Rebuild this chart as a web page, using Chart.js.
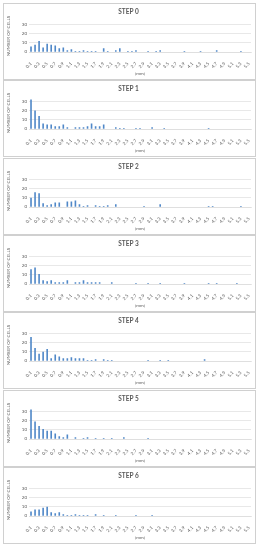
<!DOCTYPE html>
<html>
<head>
<meta charset="utf-8">
<script src="https://cdn.jsdelivr.net/npm/chart.js@4/dist/chart.umd.min.js"></script>
<style>
	html, body { margin: 0; padding: 0; background: #fff; }
	body { width: 258px; height: 550px; position: relative; overflow: hidden; }
	.panel { position: absolute; left: 3px; width: 251px; height: 75px; border: 1px solid #d0d0d0; background: #fff; }
	.panel canvas { display: block; }
</style>
</head>
<body>
<div id="charts"></div>
<script>
(function () {
	'use strict';

	var sizes = ['0.1', '0.2', '0.3', '0.4', '0.5', '0.6', '0.7', '0.8', '0.9', '1.0',
		'1.1', '1.2', '1.3', '1.4', '1.5', '1.6', '1.7', '1.8', '1.9', '2.0',
		'2.1', '2.2', '2.3', '2.4', '2.5', '2.6', '2.7', '2.8', '2.9', '3.0',
		'3.1', '3.2', '3.3', '3.4', '3.5', '3.6', '3.7', '3.8', '3.9', '4.0',
		'4.1', '4.2', '4.3', '4.4', '4.5', '4.6', '4.7', '4.8', '4.9', '5.0',
		'5.1', '5.2', '5.3', '5.4', '5.5'];

	var stepNames = ['STEP 0', 'STEP 1', 'STEP 2', 'STEP 3', 'STEP 4', 'STEP 5', 'STEP 6'];

	var step0 = [6, 8, 12, 5, 9, 8, 7, 4, 5, 2, 3, 1, 1, 2, 1, 1, 1, 0, 4, 1, 0, 2, 4, 0, 1, 1, 2, 0, 0, 1, 0, 1, 2, 0, 0, 0, 0, 0, 1, 0, 0, 0, 1, 0, 0, 0, 2, 0, 0, 0, 0, 0, 1, 0, 0];
	var step1 = [32, 20, 14, 6, 5, 5, 3, 3, 5, 2, 0, 2, 2, 2, 3, 6, 3, 3, 5, 0, 0, 2, 1, 1, 0, 0, 1, 1, 0, 0, 2, 0, 0, 1, 0, 0, 0, 0, 0, 0, 0, 0, 0, 0, 1, 0, 0, 0, 0, 0, 0, 0, 0, 0, 0];
	var step2 = [10, 16, 15, 4, 2, 3, 5, 5, 0, 6, 6, 7, 3, 1, 2, 0, 2, 1, 1, 2, 0, 3, 0, 0, 0, 0, 0, 0, 1, 0, 0, 0, 3, 0, 0, 0, 0, 0, 0, 0, 0, 0, 0, 0, 1, 1, 0, 0, 0, 0, 0, 0, 1, 0, 0];
	var step3 = [16, 18, 11, 4, 3, 4, 2, 2, 2, 4, 0, 2, 2, 4, 2, 2, 2, 2, 0, 0, 2, 0, 0, 0, 0, 0, 1, 0, 0, 1, 0, 0, 1, 0, 0, 0, 0, 0, 1, 0, 0, 0, 0, 0, 1, 0, 1, 0, 0, 0, 0, 1, 0, 0, 0];
	var step4 = [26, 14, 8, 10, 13, 3, 7, 5, 3, 3, 4, 3, 3, 3, 1, 1, 2, 0, 2, 1, 1, 0, 0, 0, 0, 0, 0, 0, 0, 1, 0, 0, 1, 0, 1, 0, 0, 0, 0, 0, 0, 0, 0, 2, 0, 0, 0, 0, 0, 0, 0, 0, 0, 0, 0];
	var step5 = [32, 19, 14, 11, 9, 9, 6, 3, 2, 5, 0, 2, 0, 1, 2, 0, 1, 0, 1, 0, 1, 0, 0, 2, 0, 0, 0, 0, 0, 1, 0, 0, 0, 0, 0, 0, 0, 0, 0, 0, 0, 0, 0, 0, 0, 0, 0, 0, 0, 0, 0, 0, 0, 0, 0];
	var step6 = [5, 7, 7, 9, 10, 4, 3, 4, 2, 1, 1, 2, 1, 1, 1, 0, 2, 0, 1, 0, 0, 1, 0, 0, 0, 0, 1, 0, 0, 0, 1, 0, 0, 0, 0, 0, 0, 0, 0, 0, 0, 0, 0, 0, 0, 0, 0, 0, 0, 0, 0, 0, 0, 0, 0];

	var steps = [step0, step1, step2, step3, step4, step5, step6];

	var yMax = 35;
	var yStep = 5;

	var textColor = '#595959';
	var font = 'Lato, "Liberation Sans", sans-serif';

	var holder = document.getElementById('charts');

	steps.forEach(function (values, i) {
		var panel = document.createElement('div');
		panel.className = 'panel';
		panel.style.top = (3 + Math.round(i * 77.3)) + 'px';
		var canvas = document.createElement('canvas');
		canvas.width = 251;
		canvas.height = 75;
		panel.appendChild(canvas);
		holder.appendChild(panel);

		new Chart(canvas, {
			type: 'bar',
			data: {
				labels: sizes,
				datasets: [
					{
						label: stepNames[i],
						data: values,
						backgroundColor: '#5088c8',
						borderWidth: 0,
						categoryPercentage: 0.5,
						barPercentage: 0.8,
					},
				],
			},
			options: {
				responsive: false,
				animation: false,
				devicePixelRatio: 1,
				layout: {
					padding: { left: 2, right: 4, top: 0, bottom: 0 },
				},
				plugins: {
					legend: { display: false },
					tooltip: { enabled: false },
					title: {
						display: true,
						text: stepNames[i],
						color: textColor,
						font: { family: font, size: 6.5, weight: 'bold' },
						padding: { top: 4, bottom: 4 },
					},
				},
				scales: {
					y: {
						min: 0,
						max: yMax,
						ticks: {
							stepSize: yStep,
							color: textColor,
							font: { family: font, size: 4.5 },
							padding: 2,
						},
						border: { display: false },
						grid: {
							color: '#d9d9d9',
							lineWidth: 0.6,
							drawTicks: false,
						},
						title: {
							display: true,
							text: 'NUMBER OF CELLS',
							color: textColor,
							font: { family: font, size: 4.5 },
							padding: { top: 0, bottom: 2 },
						},
						afterFit: function (scale) {
							scale.width = 23;
						},
					},
					x: {
						ticks: {
							autoSkip: false,
							minRotation: 45,
							maxRotation: 45,
							color: textColor,
							font: { family: font, size: 4.5 },
							padding: 1,
							callback: function (val, idx) {
								return idx % 2 === 0 ? sizes[idx] : '';
							},
						},
						border: { color: '#d9d9d9', width: 0.6 },
						grid: { display: false },
						title: {
							display: true,
							text: '[mm]',
							color: textColor,
							font: { family: font, size: 4.5 },
							padding: { top: 3, bottom: 3 },
						},
						afterFit: function (scale) {
							scale.height = 27;
						},
					},
				},
			},
		});
	});
})();
</script>
</body>
</html>
